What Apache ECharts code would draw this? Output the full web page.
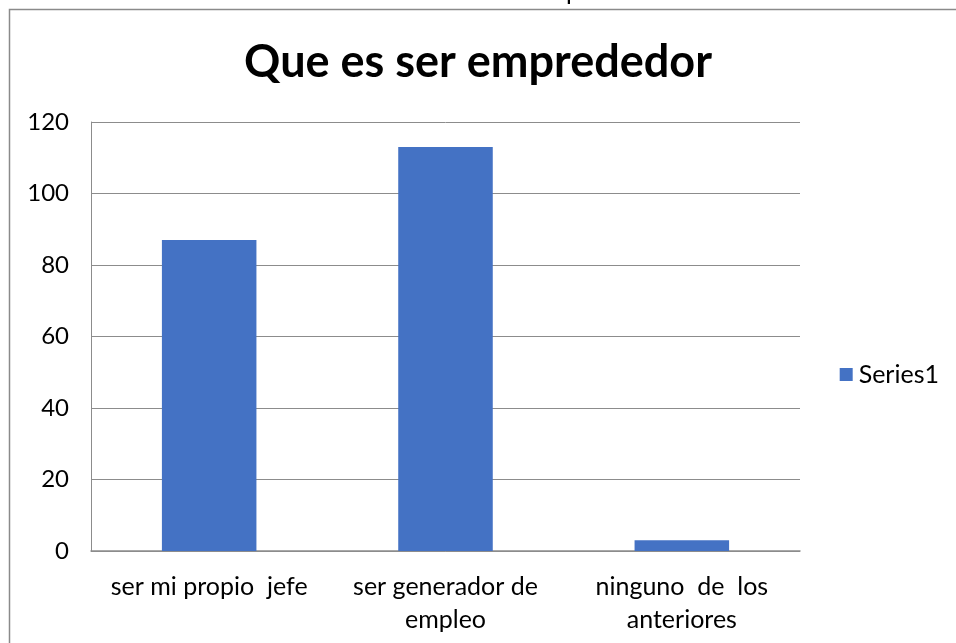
<!DOCTYPE html>
<html>
<head>
<meta charset="utf-8">
<script src="https://cdn.jsdelivr.net/npm/echarts@6/dist/echarts.min.js"></script>
<style>
  html, body { margin: 0; padding: 0; background: #fff; }
  #chart { width: 956px; height: 643px; }
</style>
</head>
<body>
<div id="chart"></div>
<script>
// data
const categories = ['ser mi propio  jefe', 'ser generador de\nempleo', 'ninguno  de  los\nanteriores'];
const series1 = [87, 113, 3];
const seriesName = 'Series1';
const titleText = 'Que es ser emprededor';

const font = 'Lato, "Open Sans", sans-serif';
const chart = echarts.init(document.getElementById('chart'));

chart.setOption({
  animation: false,
  textStyle: { fontFamily: font },
  title: {
    text: titleText,
    left: 'center',
    top: 35,
    textStyle: { fontSize: 45, fontWeight: 'bold', color: '#000', fontFamily: font }
  },
  legend: {
    right: 12,
    top: 357,
    orient: 'vertical',
    icon: 'rect',
    itemWidth: 13,
    itemHeight: 13,
    itemGap: 6,
    itemStyle: { borderWidth: 0 },
    textStyle: { fontSize: 25, color: '#000', padding: [0, 0, 0, 1] },
    data: [seriesName]
  },
  grid: { left: 91, right: 156, top: 122, bottom: 92 },
  xAxis: {
    type: 'category',
    data: categories,
    axisTick: { show: false },
    axisLine: { lineStyle: { color: '#8c8c8c', width: 1.5 } },
    axisLabel: { fontSize: 25, color: '#000', margin: 19, lineHeight: 33, interval: 0 }
  },
  yAxis: {
    type: 'value',
    min: 0,
    max: 120,
    interval: 20,
    axisLine: { show: true, lineStyle: { color: '#8c8c8c' } },
    axisTick: { show: false },
    splitLine: { lineStyle: { color: '#8c8c8c' } },
    axisLabel: { fontSize: 24, color: '#000', margin: 22 }
  },
  series: [{
    name: seriesName,
    type: 'bar',
    data: series1,
    barWidth: '40%',
    itemStyle: { color: '#4472C4' }
  }],
  graphic: [
    {
      type: 'rect',
      shape: { x: 9.5, y: 9.5, width: 1000, height: 700 },
      style: { fill: 'none', stroke: '#8a8a8a', lineWidth: 1.5 },
      silent: true
    },
    {
      type: 'text',
      x: 566, y: -21,
      style: { text: 'p', fontSize: 25, fill: '#000', fontFamily: font },
      silent: true
    }
  ]
});
</script>
</body>
</html>
